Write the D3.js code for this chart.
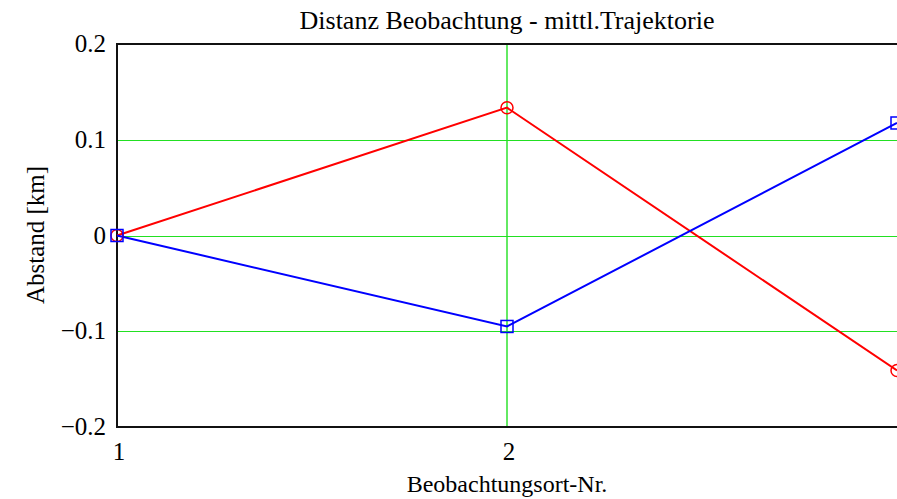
<!DOCTYPE html>
<html><head><meta charset="utf-8">
<script src="https://cdn.jsdelivr.net/npm/d3@7"></script>
<style>body{margin:0;background:#fff}svg{display:block}text{font-family:"Liberation Serif","Times New Roman",serif;fill:#000}</style>
</head><body>
<svg id="c" width="897" height="499"></svg>
<script>
const xCats = [1, 2, 3];
const redValues = [0, 0.1335, -0.141];
const blueValues = [0, -0.095, 0.1175];
const yTicks = [0.2, 0.1, 0, -0.1, -0.2];
const yTickLabels = ["0.2", "0.1", "0", "\u22120.1", "\u22120.2"];
const xTickLabels = ["1", "2"];
const title = "Distanz Beobachtung - mittl.Trajektorie";
const xTitle = "Beobachtungsort-Nr.";
const yTitle = "Abstand [km]";

const svg = d3.select("#c");
const x = d3.scaleLinear().domain([1, 3]).range([117, 897]);
const y = d3.scaleLinear().domain([-0.2, 0.2]).range([427, 44]);
const cy = v => Math.round(y(v)) + 0.5;
const cx = v => Math.round(x(v)) + 0.5;

// grid
svg.selectAll(".hg").data([0.1, 0, -0.1]).enter().append("line")
  .attr("x1", x(1)).attr("x2", x(3)).attr("y1", d => cy(d)).attr("y2", d => cy(d))
  .attr("stroke", "#22e022").attr("stroke-width", 1);
svg.append("line").attr("x1", cx(2) - 0.5).attr("x2", cx(2) - 0.5).attr("y1", y(0.2)).attr("y2", y(-0.2))
  .attr("stroke", "#22e022").attr("stroke-width", 1.4);

// frame
svg.append("line").attr("x1", x(1)).attr("x2", x(3)).attr("y1", y(0.2)).attr("y2", y(0.2)).attr("stroke", "#111").attr("stroke-width", 2);
svg.append("line").attr("x1", x(1)).attr("x2", x(3)).attr("y1", y(-0.2)).attr("y2", y(-0.2)).attr("stroke", "#111").attr("stroke-width", 2);
svg.append("line").attr("x1", x(1)).attr("x2", x(1)).attr("y1", y(0.2) - 1).attr("y2", y(-0.2) + 1).attr("stroke", "#111").attr("stroke-width", 2);

// tick labels
svg.selectAll(".yt").data(yTicks).enter().append("text")
  .attr("x", 106).attr("y", d => y(d) + 8).attr("text-anchor", "end")
  .attr("font-size", 25).text((d, i) => yTickLabels[i]);
svg.selectAll(".xt").data(xTickLabels).enter().append("text")
  .attr("x", (d, i) => x(xCats[i]) + 2).attr("y", 460).attr("text-anchor", "middle")
  .attr("font-size", 25).text(d => d);

// titles
svg.append("text").attr("x", 507).attr("y", 29).attr("text-anchor", "middle").attr("font-size", 26).text(title);
svg.append("text").attr("x", 507).attr("y", 492).attr("text-anchor", "middle").attr("font-size", 24).text(xTitle);
svg.append("text").attr("transform", "translate(44,235) rotate(-90)").attr("text-anchor", "middle").attr("font-size", 25).text(yTitle);

const line = d3.line().x((d, i) => x(xCats[i])).y(d => y(d));
svg.append("path").datum(redValues).attr("d", line).attr("fill", "none").attr("stroke", "#ff0000").attr("stroke-width", 2);
svg.append("path").datum(blueValues).attr("d", line).attr("fill", "none").attr("stroke", "#0000ff").attr("stroke-width", 2);

svg.selectAll(".rm").data(redValues).enter().append("circle")
  .attr("cx", (d, i) => x(xCats[i])).attr("cy", d => y(d)).attr("r", 6)
  .attr("fill", "none").attr("stroke", "#ff0000").attr("stroke-width", 1.5);
svg.selectAll(".bm").data(blueValues).enter().append("rect")
  .attr("x", (d, i) => x(xCats[i]) - 6).attr("y", d => y(d) - 6).attr("width", 12).attr("height", 12)
  .attr("fill", "none").attr("stroke", "#0000ff").attr("stroke-width", 1.5);
</script>
</body></html>
